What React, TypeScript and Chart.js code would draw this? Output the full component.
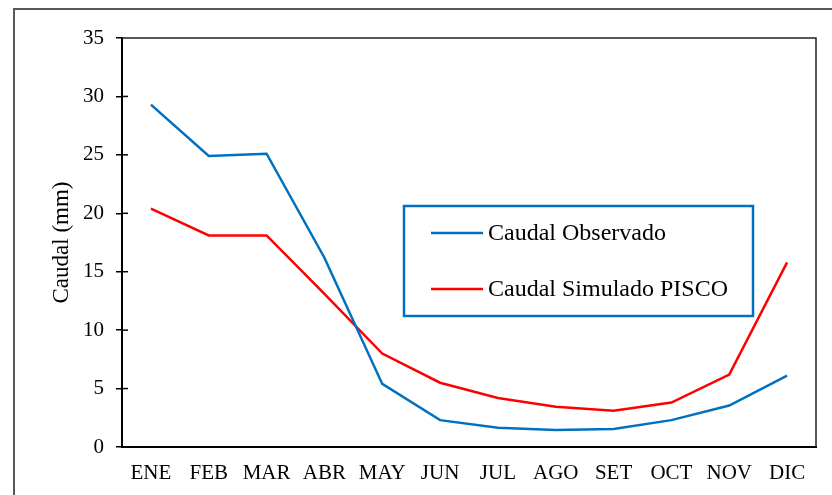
import React, { useEffect, useRef } from "react";
import { Chart, registerables } from "chart.js";

Chart.register(...registerables);

const months = ["ENE", "FEB", "MAR", "ABR", "MAY", "JUN", "JUL", "AGO", "SET", "OCT", "NOV", "DIC"];
const observed = [29.3, 24.9, 25.1, 16.2, 5.4, 2.3, 1.65, 1.45, 1.55, 2.3, 3.55, 6.1];
const simulated = [20.4, 18.1, 18.1, 13.1, 8.0, 5.5, 4.2, 3.45, 3.1, 3.8, 6.2, 15.8];
const seriesNames = ["Caudal Observado", "Caudal Simulado PISCO"];
const yAxisTitle = "Caudal (mm)";

const FONT = "'Liberation Serif', 'Times New Roman', serif";
const BLUE = "#0070C0";
const RED = "#FF0000";

const framePlugin = {
  id: "framePlugin",
  beforeDraw(chart: any) {
    const ctx = chart.ctx;
    ctx.save();
    ctx.fillStyle = "#ffffff";
    ctx.fillRect(0, 0, chart.width, chart.height);
    ctx.strokeStyle = "#595959";
    ctx.lineWidth = 2;
    ctx.strokeRect(14, 9, chart.width + 20, chart.height + 20);
    ctx.restore();
  },
  beforeDatasetsDraw(chart: any) {
    const ctx = chart.ctx;
    const a = chart.chartArea;
    ctx.save();
    ctx.strokeStyle = "#222222";
    ctx.lineWidth = 1.5;
    ctx.beginPath();
    ctx.moveTo(a.left, a.top);
    ctx.lineTo(a.right, a.top);
    ctx.lineTo(a.right, a.bottom);
    ctx.stroke();
    // inward tick marks (cross style)
    const ys = chart.scales.y;
    ctx.strokeStyle = "#000000";
    ctx.lineWidth = 1.5;
    ys.ticks.forEach((t: any) => {
      if (t.value <= ys.min || t.value >= ys.max) return;
      const y = ys.getPixelForValue(t.value);
      ctx.beginPath();
      ctx.moveTo(a.left, y);
      ctx.lineTo(a.left + 6, y);
      ctx.stroke();
    });
    ctx.restore();
  },
  afterDraw(chart: any) {
    const ctx = chart.ctx;
    ctx.save();
    const bx = 404, by = 206, bw = 349, bh = 110;
    ctx.fillStyle = "#ffffff";
    ctx.fillRect(bx, by, bw, bh);
    ctx.strokeStyle = BLUE;
    ctx.lineWidth = 2.5;
    ctx.strokeRect(bx, by, bw, bh);
    const rows = [233, 289];
    chart.data.datasets.forEach((ds: any, i: number) => {
      const y = rows[i];
      ctx.strokeStyle = ds.borderColor;
      ctx.lineWidth = 2.5;
      ctx.beginPath();
      ctx.moveTo(431, y);
      ctx.lineTo(483, y);
      ctx.stroke();
      ctx.fillStyle = "#000000";
      ctx.font = `24px ${FONT}`;
      ctx.textBaseline = "middle";
      ctx.textAlign = "left";
      ctx.fillText(ds.label, 488, y + 1);
    });
    ctx.restore();
  },
};

export default function App() {
  const ref = useRef<HTMLCanvasElement | null>(null);

  useEffect(() => {
    if (!ref.current) return;
    const chart = new Chart(ref.current, {
      type: "line",
      data: {
        labels: months,
        datasets: [
          {
            label: seriesNames[0],
            data: observed,
            borderColor: BLUE,
            backgroundColor: BLUE,
            borderWidth: 2.5,
            pointRadius: 0,
            tension: 0,
            fill: false,
          },
          {
            label: seriesNames[1],
            data: simulated,
            borderColor: RED,
            backgroundColor: RED,
            borderWidth: 2.5,
            pointRadius: 0,
            tension: 0,
            fill: false,
          },
        ],
      },
      options: {
        responsive: false,
        animation: false,
        layout: { padding: { top: 38, right: 16, left: 0, bottom: 0 } },
        plugins: {
          legend: { display: false },
          tooltip: { enabled: false },
        },
        scales: {
          x: {
            offset: true,
            grid: { display: false },
            border: { display: true, color: "#000000", width: 2 },
            ticks: {
              color: "#000000",
              font: { family: FONT, size: 21 },
              padding: 6,
              maxRotation: 0,
              autoSkip: false,
            },
            afterFit: (s: any) => {
              s.height = 48;
            },
          },
          y: {
            min: 0,
            max: 35,
            grid: {
              drawOnChartArea: false,
              drawTicks: true,
              tickLength: 6,
              color: "#000000",
              lineWidth: 1.5,
            },
            border: { display: true, color: "#000000", width: 2 },
            ticks: {
              stepSize: 5,
              color: "#000000",
              font: { family: FONT, size: 21 },
              padding: 12,
            },
            title: {
              display: true,
              text: yAxisTitle,
              color: "#000000",
              font: { family: FONT, size: 23 },
              padding: { top: 48, bottom: 0 },
            },
            afterFit: (s: any) => {
              s.width = 122;
            },
          },
        },
      },
      plugins: [framePlugin],
    });
    return () => chart.destroy();
  }, []);

  return (
    <div style={{ position: "fixed", left: 0, top: 0, width: 832, height: 495, background: "#fff" }}>
      <canvas ref={ref} width={832} height={495} style={{ display: "block" }} />
    </div>
  );
}
